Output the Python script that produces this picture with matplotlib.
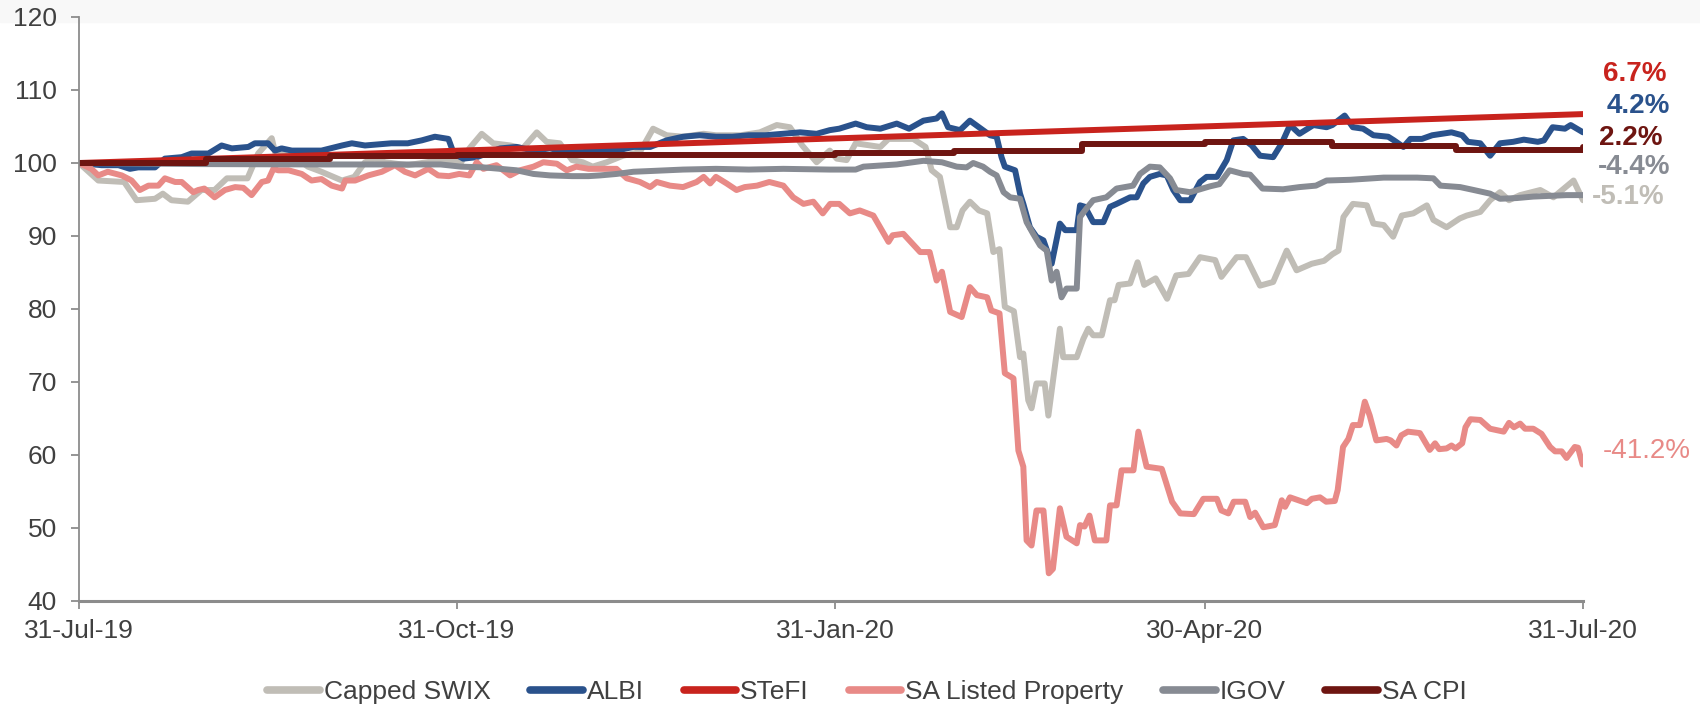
import numpy as np
import matplotlib
matplotlib.use("Agg")
import matplotlib.pyplot as plt
import matplotlib.dates as mdates
from matplotlib.patches import Rectangle
from datetime import datetime

plt.rcParams['font.family'] = ['Liberation Sans', 'DejaVu Sans']

# days counted from 31-Jul-19
start = datetime(2019, 7, 31)

swix_day = [0, 4.7, 11, 14, 18.5, 20.4, 22.5, 26.5, 29.8, 33, 36, 41, 43.6, 46.9, 47.7, 52.6, 55.7, 59, 64, 67,
            69.6, 72, 74.5, 80, 88, 93, 95, 98, 100.8, 105, 108, 111.4, 113.8, 117, 120, 122.6, 125, 128.4, 132.4,
            136.5, 139.7, 143, 147, 152, 155, 161, 165.7, 169.8, 173, 176, 179.5, 182.7, 184.4, 186.8, 189, 195,
            197, 203, 206, 207.5, 209.5, 212, 213.6, 215, 216.8, 219, 221, 222.5, 224, 225.3, 227.5, 229, 229.8,
            231, 231.8, 233, 235, 235.9, 238.7, 239.5, 242.8, 244.4, 245.6, 246.8, 248.9, 250.9, 252, 253, 255.8,
            257.6, 259.2, 262, 264.8, 267, 270, 272.8, 276.5, 278, 281.7, 284, 287.4, 290.6, 293.9, 296.3, 300,
            303, 305, 306.5, 307.7, 310, 313.4, 315, 317.5, 319.8, 321.9, 324.7, 328, 329.6, 332.8, 336, 337.7,
            341, 343.4, 345.8, 348, 350.7, 355.6, 358.8, 363.7, 366]
swix_val = [100, 97.6, 97.4, 94.9, 95.1, 95.8, 94.9, 94.7, 96.3, 96.3, 97.9, 97.9, 101.3, 103.4, 101.5, 100.8, 99.5,
            98.8, 97.6, 98.1, 100.1, 100.6, 100.1, 99.7, 100.4, 100.1, 102, 104, 102.7, 102.4, 102, 104.2, 102.9,
            102.7, 100.4, 100.1, 99.5, 100.1, 101, 101.5, 104.7, 103.8, 103.6, 104, 103.8, 103.8, 104.2, 105.2,
            104.9, 102.4, 100.1, 101.7, 100.6, 100.4, 102.7, 102.2, 103.3, 103.3, 102.2, 99, 98.1, 91.2, 91.2,
            93.5, 94.7, 93.5, 93.1, 87.8, 88.2, 80.3, 79.7, 73.4, 73.9, 67.5, 66.4, 69.8, 69.8, 65.4, 77.3, 73.4,
            73.4, 75.9, 77.3, 76.4, 76.4, 81.2, 81.2, 83.3, 83.5, 86.4, 83.3, 84.2, 81.4, 84.6, 84.8, 87.1, 86.7,
            84.4, 87.1, 87.1, 83.2, 83.7, 88, 85.3, 86.2, 86.6, 87.5, 88, 92.6, 94.4, 94.2, 91.7, 91.5, 89.9,
            92.8, 93.1, 94.2, 92.2, 91.2, 92.4, 92.8, 93.3, 94.9, 96, 94.9, 95.6, 96.3, 95.3, 97.6, 94.9]

albi_day = [0, 5.5, 9.6, 12.4, 14.4, 18.5, 20.9, 25, 27.4, 31.5, 34.7, 37.2, 41.2, 42.8, 46, 47.7, 49.3, 51.8, 59,
            64, 66.4, 69.6, 76, 80, 83.4, 86.6, 89.9, 91.2, 93.5, 96.8, 102.5, 106.5, 110.6, 114.6, 118.7, 122.7,
            126.8, 130.8, 134.9, 139, 143, 147, 151, 155, 159, 163, 167, 171.4, 175.5, 179.5, 182.7, 185, 189,
            191.7, 195, 199, 202, 205.5, 208.7, 210, 211.5, 214.4, 216.8, 219, 221.7, 223.3, 224.5, 225.3, 227.8,
            229, 229.8, 231.4, 233, 234.7, 236.7, 238.7, 240, 242.8, 243.6, 244.8, 246.8, 249.3, 250.9, 252.5,
            255.8, 257.4, 259, 260.6, 263, 264.7, 266.3, 268, 270.4, 272.8, 274.4, 276.9, 279.3, 280.9, 283.3,
            285.4, 287.4, 290.6, 292.7, 294.7, 297, 300.4, 303.6, 305, 308, 310, 312.5, 315, 318.6, 320, 322.3,
            324, 326.8, 329.3, 334, 336.6, 338, 341, 343.4, 345.8, 349, 351.6, 355, 356.5, 358.6, 361.6, 363, 366]
albi_val = [100, 99.7, 99.7, 99.2, 99.4, 99.4, 100.6, 100.8, 101.3, 101.3, 102.4, 102, 102.2, 102.7, 102.7, 101.7,
            102, 101.7, 101.7, 102.4, 102.7, 102.4, 102.7, 102.7, 103.1, 103.6, 103.3, 101.3, 100.6, 100.8, 102,
            102.2, 101.7, 102, 101.5, 101.5, 101.7, 101.7, 102.2, 102.2, 103.1, 103.6, 103.8, 103.6, 103.6, 103.8,
            103.8, 104, 104.2, 104, 104.5, 104.7, 105.4, 104.9, 104.7, 105.4, 104.7, 105.8, 106.1, 106.8, 104.9,
            104.5, 105.8, 104.9, 103.8, 103.6, 100.8, 99.5, 99, 95.8, 94.4, 91.2, 89.9, 89.4, 86.2, 91.7, 90.8,
            90.8, 94.2, 94, 91.9, 91.9, 94, 94.4, 95.3, 95.3, 97.2, 98.1, 98.5, 98.3, 96.3, 94.9, 94.9, 97.4, 98.1,
            98.1, 100.4, 103.1, 103.3, 102.4, 101, 100.8, 102.7, 105.2, 104, 105.2, 104.9, 105.2, 106.5, 104.9,
            104.7, 103.8, 103.6, 103.1, 102.2, 103.3, 103.3, 103.8, 104.2, 103.8, 102.9, 102.7, 101, 102.7, 102.9,
            103.2, 102.9, 103.1, 104.9, 104.7, 105.2, 104.2]

stefi_day = [0, 366]
stefi_val = [100, 106.7]

prop_day = [0, 3, 4.7, 7, 10.4, 12.8, 14.8, 16.9, 19.3, 20.9, 23.4, 25, 27.8, 29, 30.5, 33, 35.5, 38, 40, 42, 44.5,
            46, 47.3, 48.5, 51, 54.2, 56.6, 59, 61.5, 64, 64.8, 67.2, 70.4, 73.7, 76.9, 79.3, 81.8, 85, 87.4, 90,
            92.5, 95, 96.8, 98.4, 101.6, 104.9, 107.3, 110.6, 113, 116.3, 118.7, 121, 124, 127.6, 130.8, 133.3,
            136.5, 139, 140.6, 143.8, 147, 150.3, 152, 153.6, 155, 157.6, 160, 162, 165, 168, 171.4, 173.8, 176.3,
            178.7, 181, 182.8, 185, 187.6, 190, 193.3, 197, 198, 200.6, 204.7, 207, 208.7, 210, 212, 214.8, 216.8,
            218.5, 221, 222, 224, 225.3, 227.4, 228.6, 229.8, 230.6, 231.8, 233, 234.7, 236, 237, 238.7, 240.3,
            242.8, 243.6, 244.7, 245.9, 247.2, 250, 250.9, 252.5, 253.7, 256.6, 257.8, 259.8, 263.5, 266, 268,
            271.3, 273.6, 276.9, 278, 279.7, 281, 283.8, 285, 286.2, 288.2, 291, 292.7, 293.5, 294.7, 298.8, 300,
            302, 303.5, 305.6, 306.3, 307.6, 308.9, 310, 311.7, 312.9, 314.1, 315.7, 318.2, 319.2, 320.6, 321.8,
            323.4, 326.3, 328.7, 330, 331, 332.8, 334, 335, 336.6, 337.4, 338.6, 341, 343.4, 346.7, 348, 349.2,
            350.7, 351.9, 353.9, 355.9, 358, 359.2, 360.8, 362, 364, 364.8, 365.9]
prop_val = [100, 99.2, 98.3, 98.8, 98.3, 97.6, 96.3, 96.9, 96.9, 97.9, 97.4, 97.4, 96, 96.3, 96.5, 95.3, 96.3, 96.7,
            96.6, 95.6, 97.4, 97.6, 99.2, 99, 99, 98.5, 97.6, 97.8, 96.9, 96.5, 97.6, 97.6, 98.3, 98.8, 99.7, 98.8,
            98.3, 99.2, 98.3, 98.2, 98.5, 98.3, 100.1, 99.2, 99.7, 98.3, 99, 99.5, 100.1, 99.9, 99, 99.5, 99.2,
            99.2, 99.2, 97.9, 97.4, 96.7, 97.4, 96.9, 96.7, 97.4, 98.1, 97.2, 98.1, 97.2, 96.3, 96.7, 96.9, 97.4,
            96.9, 95.3, 94.4, 94.7, 93.1, 94.4, 94.4, 93.1, 93.5, 92.8, 89.2, 90.1, 90.3, 87.8, 87.8, 83.9, 85.1,
            79.6, 78.9, 83, 81.9, 81.6, 79.8, 79.4, 71.2, 70.5, 60.6, 58.4, 48.3, 47.6, 52.4, 52.4, 43.8, 44.4,
            52.7, 48.8, 47.9, 50.4, 50.2, 51.7, 48.3, 48.3, 53.1, 53.1, 57.9, 57.9, 63.2, 58.4, 58.1, 53.6, 52,
            51.9, 54, 54, 52.4, 52, 53.6, 53.6, 51.5, 52.1, 50.1, 50.4, 53.8, 52.9, 54.2, 53.4, 54, 54.2, 53.6,
            53.7, 55.2, 61.1, 62.2, 64.1, 64.1, 67.3, 65.4, 62, 62.2, 62, 61.3, 62.7, 63.2, 63, 60.7, 61.6, 60.8,
            60.9, 61.3, 60.9, 61.6, 63.8, 64.9, 64.8, 63.6, 63.2, 64.4, 63.8, 64.3, 63.6, 63.6, 62.9, 61.1, 60.5,
            60.5, 59.6, 61.1, 61, 58.7]

igov_day = [0, 30, 60, 88, 93, 98.4, 102.5, 106.5, 110.6, 114.6, 120, 124, 126.8, 130.8, 134.9, 139, 147, 155, 163,
            171.4, 182.7, 189, 190.9, 199, 205.5, 210, 213.6, 216, 217.6, 220, 221.7, 223.3, 225, 226.6, 229,
            230.6, 232.2, 233.9, 235.5, 236.7, 237.9, 239.1, 240.3, 242.8, 243.6, 245.2, 246.8, 250, 252.5, 256.5,
            258.2, 260.6, 263, 265.5, 267, 270.4, 272.8, 275.2, 277.5, 280, 283.3, 285, 288, 293, 297, 301, 303.6,
            309.3, 317.5, 325.6, 329.6, 331.3, 336.1, 339.4, 343.4, 345.8, 349.9, 353.9, 362, 366]
igov_val = [100, 99.85, 99.8, 99.8, 99.5, 99.4, 99.2, 99, 98.5, 98.3, 98.2, 98.2, 98.3, 98.5, 98.8, 98.9, 99.1, 99.2,
            99.1, 99.2, 99.1, 99.1, 99.5, 99.8, 100.3, 100.1, 99.5, 99.4, 100, 99.5, 98.8, 98.3, 96, 95.3, 95.1,
            91.9, 90.3, 88.7, 88, 83.9, 85.1, 81.6, 82.8, 82.8, 92.6, 93.8, 94.9, 95.3, 96.5, 96.9, 98.5, 99.5,
            99.4, 97.9, 96.3, 96, 96.4, 96.8, 97.1, 99, 98.5, 98.4, 96.5, 96.4, 96.7, 96.9, 97.6, 97.7, 98, 98,
            97.9, 96.9, 96.7, 96.3, 95.8, 95.1, 95.2, 95.4, 95.6, 95.6]

cpi_day = [0, 31, 61, 92, 122, 153, 184, 213, 244, 274, 305, 335, 366]
cpi_val = [100, 100.5, 100.9, 101.1, 101.15, 101.15, 101.4, 101.6, 102.65, 102.9, 102.35, 101.75, 102.2]

names = ['Capped SWIX', 'ALBI', 'STeFI', 'SA Listed Property', 'IGOV', 'SA CPI']
colors = ['#c0bdb6', '#2a528c', '#c8231d', '#e88a87', '#878b93', '#6e1511']
end_labels = ['-5.1%', '4.2%', '6.7%', '-41.2%', '-4.4%', '2.2%']

# where the end labels sit (baseline, in data units) and their x offset in px
label_y = [94.35, 106.8, 111.3, 59.6, 98.45, 102.4]
label_dx = [9, 24, 20, 20, 15, 16]
label_bold = [True, True, True, False, True, True]

base = mdates.date2num(start)
series = [(swix_day, swix_val), (albi_day, albi_val), (stefi_day, stefi_val),
          (prop_day, prop_val), (igov_day, igov_val), (cpi_day, cpi_val)]

fig = plt.figure(figsize=(17, 7.11), dpi=100)
fig.patches.append(Rectangle((0, 1 - 22 / 711), 1, 22 / 711, transform=fig.transFigure,
                             color='#f8f8f8', zorder=-10))
ax = fig.add_axes([79 / 1700, 1 - 601 / 711, 1504 / 1700, 584 / 711])
ax.set_facecolor('none')

for i, (d, v) in enumerate(series):
    x = base + np.array(d, dtype=float)
    ds = 'steps-post' if names[i] == 'SA CPI' else 'default'
    ax.plot(x, v, color=colors[i], lw=4.3, label=names[i], drawstyle=ds,
            solid_joinstyle='round', solid_capstyle='round')

for i in range(6):
    ax.annotate(end_labels[i], xy=(1, label_y[i]), xycoords=('axes fraction', 'data'),
                xytext=(label_dx[i] * 0.72, 0), textcoords='offset points',
                ha='left', va='baseline', fontsize=20, color=colors[i],
                fontweight='bold' if label_bold[i] else 'normal', annotation_clip=False)

ax.set_xlim(base, base + 366)
ax.set_ylim(40, 120)
ax.set_yticks(np.arange(40, 121, 10))
tick_dates = [datetime(2019, 7, 31), datetime(2019, 10, 31), datetime(2020, 1, 31),
              datetime(2020, 4, 30), datetime(2020, 7, 31)]
ax.set_xticks(mdates.date2num(tick_dates))
ax.xaxis.set_major_formatter(mdates.DateFormatter('%d-%b-%y'))

for s in ['top', 'right']:
    ax.spines[s].set_visible(False)
ax.spines['left'].set_color('#8c8c8c')
ax.spines['left'].set_linewidth(1.3)
ax.spines['bottom'].set_color('#8c8c8c')
ax.spines['bottom'].set_linewidth(2.2)
ax.tick_params(axis='y', length=6, width=1.3, color='#8c8c8c', pad=10, labelsize=19, labelcolor='#404040')
ax.tick_params(axis='x', length=6, width=1.3, color='#8c8c8c', pad=7, labelsize=19, labelcolor='#404040')

leg = fig.legend(loc='center', bbox_to_anchor=(0.51, 1 - 692 / 711), ncol=6, frameon=False,
                 fontsize=19, handlelength=2.0, handletextpad=0.15, columnspacing=1.5)
for h in leg.get_lines():
    h.set_linewidth(5.5)
for t in leg.get_texts():
    t.set_color('#404040')

fig.savefig('out.png', dpi=100)
